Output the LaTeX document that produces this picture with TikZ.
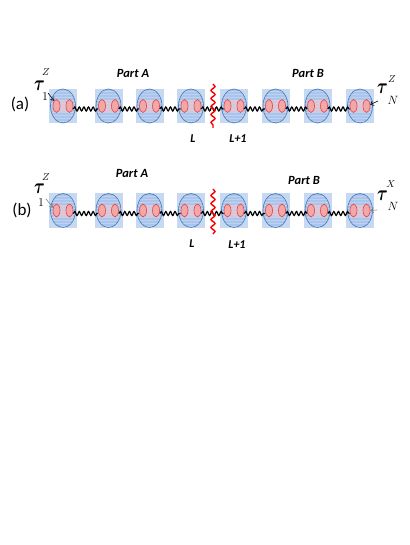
\documentclass[tikz,border=0pt]{standalone}
\usepackage{fontspec}
\setmainfont{Carlito}
\usepackage{bm}
\usetikzlibrary{decorations.pathmorphing,arrows.meta,patterns,shapes.geometric}
\definecolor{sqblue}{RGB}{198,217,241}
\definecolor{elblue}{RGB}{170,196,236}
\definecolor{eledge}{RGB}{74,126,187}
\definecolor{dotfill}{RGB}{242,168,168}
\definecolor{dotedge}{RGB}{222,70,70}
\definecolor{bandpink}{RGB}{236,200,210}
\definecolor{cutred}{RGB}{250,0,0}
\begin{document}
\begin{tikzpicture}[x=1pt,y=-1pt,
 site/.style={fill=sqblue, minimum width=28pt, minimum height=34pt, inner sep=0pt},
 shell/.style={ellipse, draw=eledge, line width=0.7pt, fill=elblue, minimum width=25pt, minimum height=34pt, inner sep=0pt},
 stripes/.style={ellipse, minimum width=24pt, minimum height=33pt, inner sep=0pt, pattern=horizontal lines, pattern color=white!22!elblue},
 band/.style={fill=bandpink, opacity=0.7, minimum width=20pt, minimum height=12pt, inner sep=0pt},
 dot/.style={ellipse, draw=dotedge, line width=0.6pt, fill=dotfill, minimum width=7pt, minimum height=13pt, inner sep=0pt},
 spring/.style={line width=1.2pt, decorate, decoration={snake, amplitude=2pt, segment length=4.6pt}},
 cut/.style={draw=cutred, line width=1.4pt, decorate, decoration={snake, amplitude=2pt, segment length=8pt}},
 part/.style={font=\fontsize{12.5}{14}\selectfont\bfseries\itshape},
 lab/.style={font=\fontsize{12}{14}\selectfont\bfseries\itshape},
 panel/.style={font=\fontsize{17}{20}\selectfont},
 tau/.style={font=\fontsize{19}{22}\selectfont, inner sep=0pt},
 tsup/.style={font=\fontsize{10}{11}\selectfont, inner sep=0pt},
 tsub/.style={font=\fontsize{12}{13}\selectfont, inner sep=0pt},
 pointer/.style={line width=0.6pt, -{Straight Barb[length=3pt,width=5pt]}},
]
\useasboundingbox (0,0) rectangle (409,545);

% sites
\foreach \r/\yy in {a/106, b/210.5}{
  \foreach \x [count=\i] in {63,108.5,149.5,191,234,275.5,317.5,360}{
    \node[site] (\r\i) at (\x,\yy) {};
    \node[shell] (\r\i s) at (\x,\yy) {};
    \node[stripes] (\r\i st) at (\x,\yy) {};
    \node[band] (\r\i bd) at (\x,\yy) {};
    \node[dot] (\r\i l) at (\x-6.5,\yy) {};
    \node[dot] (\r\i r) at (\x+6.5,\yy) {};
  }
  \foreach \i [evaluate=\i as \j using int(\i+1)] in {1,...,7}{
    \draw[spring] ([yshift=-3pt]\r\i r.east) -- ([yshift=-3pt]\r\j l.west);
  }
}

% cuts
\coordinate (cuta1) at (213,84);
\coordinate (cuta2) at (213,128);
\coordinate (cutb1) at (213,189);
\coordinate (cutb2) at (213,234);
\draw[cut] (cuta1) -- (cuta2);
\draw[cut] (cutb1) -- (cutb2);

% labels row a
\node[panel] (pa) at (20,104) {(a)};
\node[part] (partAa) at (133,73) {Part A};
\node[part] (partBa) at (308,73) {Part B};
\node[lab] (La) at (193,139) {L};
\node[lab] (L1a) at (238,139) {L+1};

% labels row b
\node[panel] (pb) at (22,210) {(b)};
\node[part] (partAb) at (132,173) {Part A};
\node[part] (partBb) at (304,180) {Part B};
\node[lab] (Lb) at (192,244) {L};
\node[lab] (L1b) at (237,245) {L+1};

% tau labels
\node[tau] (t1a) at (39.5,86) {\scalebox{0.95}[1.25]{$\bm{\tau}$}};
\node[tsup] (t1aZ) at (46,72) {$Z$};
\node[tsub] (t1a1) at (45,97) {$1$};
\node[tau] (tNa) at (382.5,89) {\scalebox{0.95}[1.25]{$\bm{\tau}$}};
\node[tsup] (tNaZ) at (392,79) {$Z$};
\node[tsub] (tNaN) at (393,100) {$N$};
\node[tau] (t1b) at (39.5,189) {\scalebox{0.95}[1.25]{$\bm{\tau}$}};
\node[tsup] (t1bZ) at (46,177) {$Z$};
\node[tsub] (t1b1) at (41,203) {$1$};
\node[tau] (tNb) at (382.5,196) {\scalebox{0.95}[1.25]{$\bm{\tau}$}};
\node[tsup] (tNbX) at (391,184) {$X$};
\node[tsub] (tNbN) at (393,206) {$N$};

\coordinate (pa1) at (48,93);
\coordinate (pa2) at (378,101);
\coordinate (pb1) at (46,199);
\coordinate (pb2) at (377,210);
\draw[pointer] (pa1) -- (a1l.115);
\draw[pointer] (pa2) -- (a8r.20);
\draw[pointer, gray] (pb1) -- (b1l.140);
\draw[pointer, gray] (pb2) -- (b8r.east);
\end{tikzpicture}
\end{document}
